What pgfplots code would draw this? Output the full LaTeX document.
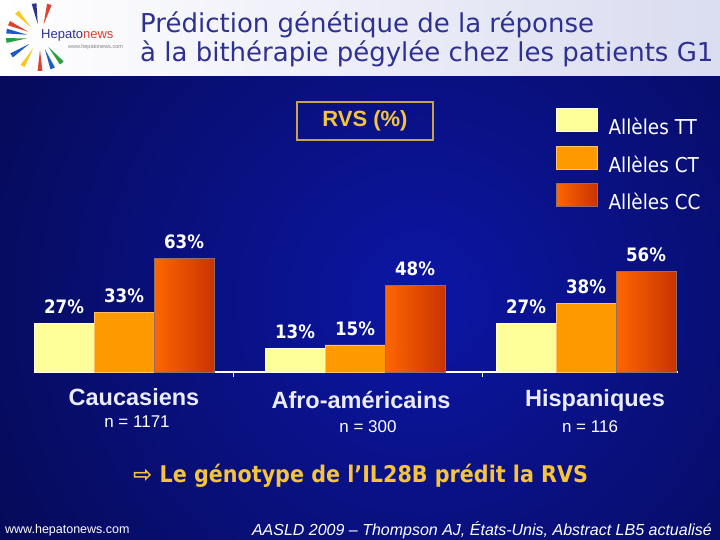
\documentclass[border=0pt]{standalone}
\usepackage{fontspec}
\setmainfont{Liberation Sans}
\newfontfamily\tah{DejaVu Sans Condensed}
\newfontfamily\dvs{DejaVu Sans}
\usepackage{pgfplots}
\pgfplotsset{compat=1.18}

\definecolor{titleblue}{RGB}{46,49,146}
\definecolor{bandright}{RGB}{218,220,240}
\definecolor{bgdark}{RGB}{0,0,20}
\definecolor{bgmid}{RGB}{12,22,165}
\definecolor{ttcol}{RGB}{255,255,153}
\definecolor{ctcol}{RGB}{255,153,0}
\definecolor{cclight}{RGB}{255,102,0}
\definecolor{ccdark}{RGB}{200,52,0}
\definecolor{gold}{RGB}{245,196,60}
\definecolor{goldbox}{RGB}{200,164,72}
\definecolor{logored}{RGB}{224,64,48}
\definecolor{logoblue}{RGB}{30,90,200}
\definecolor{logogreen}{RGB}{40,160,60}
\definecolor{logoyellow}{RGB}{250,200,30}

\newcommand{\fs}[1]{\fontsize{#1bp}{#1bp}\selectfont}

\begin{document}
\begin{tikzpicture}[x=1bp,y=1bp]
\useasboundingbox (0,0) rectangle (720,540);

% slide background
\begin{scope}
  \clip (0,0) rectangle (720,464);
  \shade[inner color=bgmid, outer color=bgdark] (420,240) circle (900);
\end{scope}
\shade[left color=white, right color=bandright] (0,464) rectangle (720,540);

% logo
\foreach \a/\c in {100/titleblue,74/logored,133/logoyellow,156/logored,170/logoblue,
                   186/logogreen,213/logoblue,239/logoyellow,270/logored,292/logoblue,310/logogreen}
  \fill[\c, shift={(40,503)}] (\a:13) -- ({\a+4}:34) -- ({\a-4}:34) -- cycle;
\node[anchor=base west, inner sep=0, font=\fs{13}] at (41,501)
  {\textcolor{titleblue}{Hepato}\textcolor{logored}{news}};
\node[anchor=base west, inner sep=0, font=\fs{5.5}, text=gray] at (68,491) {www.hepatonews.com};

% title
\node[anchor=base west, inner sep=0, text=titleblue, font=\dvs\fs{26}] at (140,507)
  {Prédiction génétique de la réponse};
\node[anchor=base west, inner sep=0, text=titleblue, font=\dvs\fs{26}] at (140,478)
  {à la bithérapie pégylée chez les patients G1};

% RVS box
\node[draw=goldbox, line width=2bp, minimum width=136bp, minimum height=38bp,
      text=gold, font=\bfseries\fs{22}] at (365,419) {RVS (\%)};

\begin{axis}[
  at={(36bp,168bp)}, anchor=south west, scale only axis,
  width=642bp, height=126bp,
  xmin=-0.381, xmax=2.398, ymin=0, ymax=70,
  clip=false,
  ybar=0pt, bar width=60bp,
  axis y line=none, axis x line*=bottom,
  x axis line style={white, line width=1.4bp},
  xtick={0.472,1.55}, xticklabels={},
  major tick length=5bp, tick align=outside,
  tick style={white, line width=1bp},
  /pgf/number format/assume math mode=true,
  nodes near coords={\pgfmathprintnumber{\pgfplotspointmeta}\%},
  every node near coord/.append style={font=\tah\bfseries\fs{18.5}, text=white,
    anchor=center, yshift=16.5bp},
  legend style={at={(0.81,2.095)}, anchor=north west, draw=none, fill=none,
    inner sep=0pt, text=white, font=\tah\fs{20.5}, row sep=9.25bp,
    nodes={inner sep=0pt},
    /tikz/every odd column/.append style={column sep=11bp}},
  legend cell align=left,
  legend image code/.code={\draw[#1] (0bp,-4bp) rectangle (41bp,19bp);},
  ccbar/.style={bar shift=60bp, left color=cclight, right color=ccdark, draw=gray!80!ccdark},
]
\addplot[bar shift=-60bp, fill=ttcol, draw=white!90!ttcol] coordinates {(0,27) (1,13) (2,27)};
\addlegendentry{Allèles TT}
\addplot[bar shift=0bp, fill=ctcol, draw=ctcol!60!white] coordinates {(0,33) (1,15) (2,38)};
\addlegendentry{Allèles CT}
% one plot per CC bar, so that each bar gets its own gradient
\addplot[ccbar] coordinates {(0,63)};
\addlegendentry{Allèles CC}
\addplot[ccbar, forget plot] coordinates {(1,48)};
\addplot[ccbar, forget plot] coordinates {(2,56)};
\end{axis}

% group labels
\node[text=white!92!blue, font=\bfseries\fs{23.5}] at (134,143) {Caucasiens};
\node[text=white!92!blue, font=\bfseries\fs{23.5}] at (361,140) {Afro-américains};
\node[text=white!92!blue, font=\bfseries\fs{23.5}] at (595,140) {Hispaniques};
\node[text=white, font=\fs{17}] at (137,118) {n = 1171};
\node[text=white, font=\fs{17}] at (368,113) {n = 300};
\node[text=white, font=\fs{17}] at (590,113) {n = 116};

% conclusion
\node[anchor=west, inner sep=0, text=gold, font=\tah\bfseries\fs{23}] at (133,64)
  {{\dvs ⇨} Le génotype de l’IL28B prédit la RVS};

% footer
\node[anchor=west, inner sep=0, text=white, font=\fs{12.5}] at (5,10) {www.hepatonews.com};
\node[anchor=east, inner sep=0, text=white, font=\itshape\fs{16}] at (712,10)
  {AASLD 2009 – Thompson AJ, États-Unis, Abstract LB5 actualisé};
\end{tikzpicture}
\end{document}
